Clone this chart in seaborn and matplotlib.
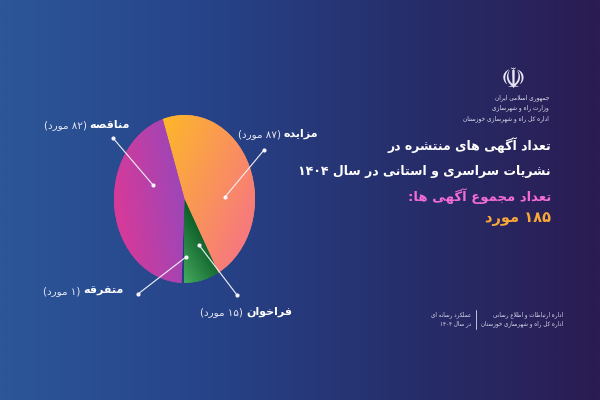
import numpy as np
import pandas as pd
import matplotlib
matplotlib.use("Agg")
import matplotlib.pyplot as plt
import seaborn as sns
from matplotlib.colors import to_rgb, LinearSegmentedColormap

# ---------------- data ----------------
categories = ['مزایده', 'فراخوان', 'متفرقه', 'مناقصه']
counts = [87, 15, 1, 82]
unit = 'مورد'
title_lines = ['تعداد آگهی های منتشره در', 'نشریات سراسری و استانی در سال ۱۴۰۴']
total_caption = 'تعداد مجموع آگهی ها:'
org_lines = ['جمهوری اسلامی ایران', 'وزارت راه و شهرسازی', 'اداره کل راه و شهرسازی خوزستان']
footer_right = ['اداره ارتباطات و اطلاع رسانی', 'اداره کل راه و شهرسازی خوزستان']
footer_left = ['عملکرد رسانه ای', 'در سال ۱۴۰۴']

df = pd.DataFrame({'category': categories, 'count': counts})
total = int(df['count'].sum())

# ---------------- minimal Persian shaping / bidi ----------------
FORMS = {
    'آ': ('\uFE81', '\uFE82', None, None), 'أ': ('\uFE83', '\uFE84', None, None),
    'ؤ': ('\uFE85', '\uFE86', None, None), 'إ': ('\uFE87', '\uFE88', None, None),
    'ئ': ('\uFE89', '\uFE8A', '\uFE8B', '\uFE8C'), 'ا': ('\uFE8D', '\uFE8E', None, None),
    'ب': ('\uFE8F', '\uFE90', '\uFE91', '\uFE92'), 'ة': ('\uFE93', '\uFE94', None, None),
    'ت': ('\uFE95', '\uFE96', '\uFE97', '\uFE98'), 'ث': ('\uFE99', '\uFE9A', '\uFE9B', '\uFE9C'),
    'ج': ('\uFE9D', '\uFE9E', '\uFE9F', '\uFEA0'), 'ح': ('\uFEA1', '\uFEA2', '\uFEA3', '\uFEA4'),
    'خ': ('\uFEA5', '\uFEA6', '\uFEA7', '\uFEA8'), 'د': ('\uFEA9', '\uFEAA', None, None),
    'ذ': ('\uFEAB', '\uFEAC', None, None), 'ر': ('\uFEAD', '\uFEAE', None, None),
    'ز': ('\uFEAF', '\uFEB0', None, None), 'س': ('\uFEB1', '\uFEB2', '\uFEB3', '\uFEB4'),
    'ش': ('\uFEB5', '\uFEB6', '\uFEB7', '\uFEB8'), 'ص': ('\uFEB9', '\uFEBA', '\uFEBB', '\uFEBC'),
    'ض': ('\uFEBD', '\uFEBE', '\uFEBF', '\uFEC0'), 'ط': ('\uFEC1', '\uFEC2', '\uFEC3', '\uFEC4'),
    'ظ': ('\uFEC5', '\uFEC6', '\uFEC7', '\uFEC8'), 'ع': ('\uFEC9', '\uFECA', '\uFECB', '\uFECC'),
    'غ': ('\uFECD', '\uFECE', '\uFECF', '\uFED0'), 'ف': ('\uFED1', '\uFED2', '\uFED3', '\uFED4'),
    'ق': ('\uFED5', '\uFED6', '\uFED7', '\uFED8'), 'ك': ('\uFED9', '\uFEDA', '\uFEDB', '\uFEDC'),
    'ل': ('\uFEDD', '\uFEDE', '\uFEDF', '\uFEE0'), 'م': ('\uFEE1', '\uFEE2', '\uFEE3', '\uFEE4'),
    'ن': ('\uFEE5', '\uFEE6', '\uFEE7', '\uFEE8'), 'ه': ('\uFEE9', '\uFEEA', '\uFEEB', '\uFEEC'),
    'و': ('\uFEED', '\uFEEE', None, None), 'ي': ('\uFEF1', '\uFEF2', '\uFEF3', '\uFEF4'),
    'پ': ('\uFB56', '\uFB57', '\uFB58', '\uFB59'), 'چ': ('\uFB7A', '\uFB7B', '\uFB7C', '\uFB7D'),
    'ژ': ('\uFB8A', '\uFB8B', None, None), 'ک': ('\uFB8E', '\uFB8F', '\uFEDB', '\uFEDC'),
    'گ': ('\uFB92', '\uFB93', '\uFB94', '\uFB95'), 'ی': ('\uFBFC', '\uFBFD', '\uFEF3', '\uFEF4'),
}
DIGITS = set('0123456789۰۱۲۳۴۵۶۷۸۹')
MIRROR = {'(': ')', ')': '('}


def _shape(text):
    seq, i = [], 0
    while i < len(text):
        c = text[i]
        if c == 'ل' and i + 1 < len(text) and text[i + 1] in ('ا', 'آ'):
            seq.append('LA' if text[i + 1] == 'ا' else 'LAA')
            i += 2
        else:
            seq.append(c)
            i += 1

    def joins_next(c):
        return c in FORMS and FORMS[c][2] is not None

    def joins_prev(c):
        return c in ('LA', 'LAA') or c in FORMS

    out = []
    for k, c in enumerate(seq):
        prev = seq[k - 1] if k > 0 else None
        nxt = seq[k + 1] if k + 1 < len(seq) else None
        cp = prev is not None and joins_next(prev)
        if c in ('LA', 'LAA'):
            if c == 'LA':
                out.append('\uFEFC' if cp else '\uFEFB')
            else:
                out.append('\uFEF6' if cp else '\uFEF5')
            continue
        if c not in FORMS:
            if c != '\u200c':
                out.append(c)
            continue
        iso, fin, ini, med = FORMS[c]
        cn = nxt is not None and ini is not None and joins_prev(nxt)
        if cp and cn:
            out.append(med)
        elif cp:
            out.append(fin)
        elif cn:
            out.append(ini)
        else:
            out.append(iso)
    return out


def rtl(text):
    glyphs = _shape(text)[::-1]
    out, run = [], []
    for g in glyphs:
        if g in DIGITS:
            run.append(g)
        else:
            if run:
                out.extend(run[::-1])
                run = []
            out.append(MIRROR.get(g, g))
    if run:
        out.extend(run[::-1])
    return ''.join(out)


FA = str.maketrans('0123456789', '۰۱۲۳۴۵۶۷۸۹')


def fa(n):
    return str(n).translate(FA)


# ---------------- style ----------------
sns.set_theme(style='white')
plt.rcParams['font.family'] = ['DejaVu Sans']

W, H = 600, 400
fig = plt.figure(figsize=(6, 4), dpi=100)

# background gradient
bg = fig.add_axes([0, 0, 1, 1], zorder=0)
bg.axis('off')
bg_cmap = LinearSegmentedColormap.from_list('bg', ['#2c5698', '#27448a', '#262f6c', '#2b1c53'])
gx = np.linspace(0, 1, 300)[None, :]
gy = np.linspace(0, 1, 2)[:, None]
bg.imshow(gx + 0 * gy, cmap=bg_cmap, aspect='auto', extent=(0, 1, 0, 1),
          interpolation='bilinear')
bg.set_xlim(0, 1)
bg.set_ylim(0, 1)

# pie (elliptical)
palette = sns.color_palette(['#fb9a55', '#2a8a45', '#223f80', '#bf40a6'])
ax = fig.add_axes([114 / W, 1 - 283 / H, 141 / W, 168 / H], zorder=1)
wedges, _ = ax.pie(df['count'], colors=palette, startangle=108, counterclock=False,
                   radius=1, wedgeprops=dict(linewidth=0))
ax.set_xlim(-1, 1)
ax.set_ylim(-1, 1)
ax.set_aspect('auto')
ax.axis('off')

grad = {
    'مزایده': ('#fdb72a', '#f7787f', (1.0, -0.55)),
    'مناقصه': ('#d83a98', '#9c46b8', (1.0, 0.15)),
    'فراخوان': ('#44aa5e', '#0c5c26', (1.0, 0.7)),
}
n = 300
X, Y = np.meshgrid(np.linspace(-1, 1, n), np.linspace(-1, 1, n))
pts = np.column_stack([X.ravel(), Y.ravel()])
for w, cat in zip(wedges, df['category']):
    if cat not in grad:
        continue
    c0, c1, (dx, dy) = grad[cat]
    proj = X * dx + Y * dy
    mask = w.get_path().contains_points(pts).reshape(X.shape)
    lo, hi = proj[mask].min(), proj[mask].max()
    t = np.clip((proj - lo) / (hi - lo), 0, 1)[..., None]
    img = (1 - t) * np.array(to_rgb(c0)) + t * np.array(to_rgb(c1))
    im = ax.imshow(img, extent=(-1, 1, -1, 1), origin='lower', zorder=2,
                   interpolation='bilinear', aspect='auto')
    im.set_clip_path(w)
ax.set_xlim(-1, 1)
ax.set_ylim(-1, 1)

# overlay for text / leaders, in pixel coordinates
ov = fig.add_axes([0, 0, 1, 1], zorder=5)
ov.set_xlim(0, W)
ov.set_ylim(H, 0)
ov.axis('off')
ov.patch.set_alpha(0)

# label layout: (right edge x, y, outer dot, inner dot)
label_layout = {
    'مزایده': (318, 134, (264, 150), (225, 197)),
    'مناقصه': (130, 125, (113, 138), (153, 185)),
    'فراخوان': (292, 312, (237, 295), (199, 245)),
    'متفرقه': (124, 291, (138, 294), (186, 257)),
}
fig.canvas.draw()
renderer = fig.canvas.get_renderer()
for cat, cnt in zip(df['category'], df['count']):
    xr, yy, p_out, p_in = label_layout[cat]
    t1 = ov.text(xr, yy, rtl(cat), ha='right', va='center', fontsize=8,
                 fontweight='bold', color='white')
    bb = t1.get_window_extent(renderer)
    wpx = bb.width
    ov.text(xr - wpx - 3, yy, rtl(f'({fa(cnt)} {unit})'), ha='right', va='center',
            fontsize=7.5, color='#e6e6f2')
    ov.plot([p_out[0], p_in[0]], [p_out[1], p_in[1]], color='#f2f2f8', lw=0.8)
    ov.plot([p_out[0], p_in[0]], [p_out[1], p_in[1]], 'o', color='#f4f4fa', ms=3,
            mec='none')

# emblem + organisation lines
ov.text(513, 80, '\u262B', ha='center', va='center', fontsize=20, color='#e9e7f4')
for txt, yy in zip(org_lines, [98, 108, 119]):
    ov.text(549, yy, rtl(txt), ha='right', va='center', fontsize=4.2, color='#e6e4f2')

# titles
ov.text(551, 145, rtl(title_lines[0]), ha='right', va='center', fontsize=9,
        fontweight='bold', color='white')
ov.text(551, 171, rtl(title_lines[1]), ha='right', va='center', fontsize=9,
        fontweight='bold', color='white')
ov.text(551, 196, rtl(total_caption), ha='right', va='center', fontsize=9.5,
        fontweight='bold', color='#f26bd6')
ov.text(551, 219, rtl(f'{fa(total)} {unit}'), ha='right', va='center', fontsize=10.5,
        fontweight='bold', color='#f7a839')

# footer
for txt, yy in zip(footer_right, [315, 324]):
    ov.text(563, yy, rtl(txt), ha='right', va='center', fontsize=4.1, color='#dcdcec')
for txt, yy in zip(footer_left, [315, 324]):
    ov.text(471, yy, rtl(txt), ha='right', va='center', fontsize=4.1, color='#dcdcec')
ov.plot([476, 476], [310, 329], color='#dcdcec', lw=0.6)

fig.savefig('out.png', dpi=100)
